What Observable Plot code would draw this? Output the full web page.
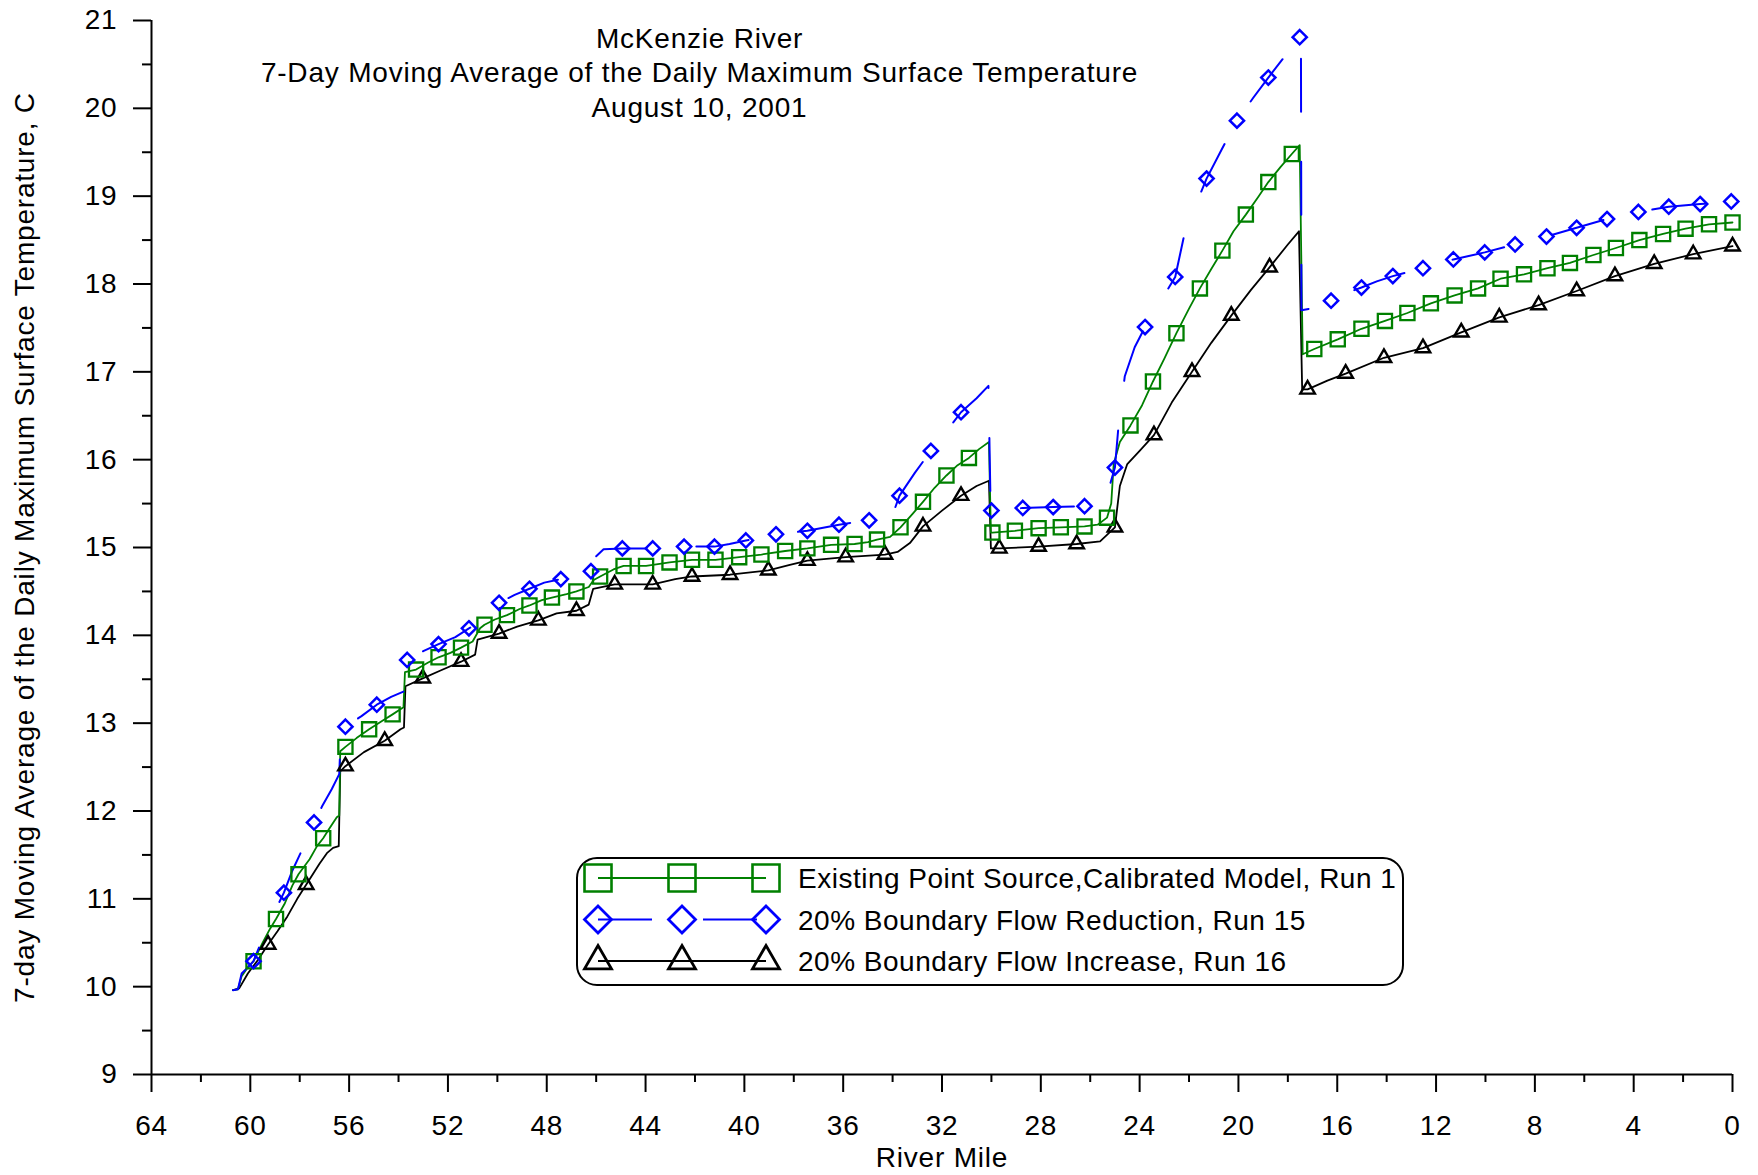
<!DOCTYPE html>
<html>
<head>
<meta charset="utf-8">
<script src="https://cdn.jsdelivr.net/npm/d3@7"></script>
<script src="https://cdn.jsdelivr.net/npm/@observablehq/plot@0.6"></script>
<style>
  body { margin: 0; background: #fff; }
  #chart { width: 1758px; height: 1175px; }
  #chart svg text { font-family: "Liberation Sans", Arial, sans-serif; letter-spacing: 0.8px; fill: #000; }
  #chart svg .legend text { letter-spacing: 0.5px; text-anchor: start; }
</style>
</head>
<body>
<div id="chart"></div>
<script>
// ---------- tick values ----------
const xTicks = [64, 60, 56, 52, 48, 44, 40, 36, 32, 28, 24, 20, 16, 12, 8, 4, 0];
const xMinorTicks = [62, 58, 54, 50, 46, 42, 38, 34, 30, 26, 22, 18, 14, 10, 6, 2];
const yTicks = [9, 10, 11, 12, 13, 14, 15, 16, 17, 18, 19, 20, 21];
const yMinorTicks = [9.5, 10.5, 11.5, 12.5, 13.5, 14.5, 15.5, 16.5, 17.5, 18.5, 19.5, 20.5];

// ---------- text ----------
const titleLines = ["McKenzie River", "7-Day Moving Average of the Daily Maximum Surface Temperature", "August 10, 2001"];
const xLabel = "River Mile";
const yLabel = "7-day Moving Average of the Daily Maximum Surface Temperature, C";
const legendLabels = [
  "Existing Point Source,Calibrated Model, Run 1",
  "20% Boundary Flow Reduction, Run 15",
  "20% Boundary Flow Increase, Run 16"
];

// ---------- Run 1: existing point source, calibrated model [river mile, temp C] ----------
const run1Line = [[60.7,9.96],[60.5,9.97],[60.35,10.12],[60.1,10.22],[59.87,10.29],[59.5,10.5],[59.2,10.66],[58.96,10.77],[58.6,10.95],[58.3,11.15],[58.05,11.28],[57.6,11.45],[57.3,11.6],[57.05,11.69],[56.8,11.8],[56.5,11.93],[56.4,11.95],[56.36,12.68],[56.15,12.73],[55.7,12.83],[55.19,12.93],[54.7,13.02],[54.24,13.10],[53.8,13.18],[53.74,13.58],[53.29,13.61],[52.8,13.69],[52.38,13.75],[51.9,13.8],[51.47,13.86],[51.0,13.93],[50.7,14.08],[50.52,14.12],[50.1,14.18],[49.61,14.23],[49.1,14.3],[48.70,14.34],[48.2,14.4],[47.79,14.43],[47.2,14.47],[46.80,14.50],[46.3,14.55],[46.1,14.63],[45.84,14.67],[45.3,14.75],[44.89,14.79],[43.98,14.79],[43.5,14.81],[43.03,14.83],[42.12,14.86],[41.17,14.86],[40.21,14.89],[39.31,14.92],[38.35,14.96],[37.45,14.99],[36.49,15.03],[35.54,15.04],[35.0,15.06],[34.63,15.09],[34.1,15.12],[33.68,15.23],[33.2,15.38],[32.77,15.52],[32.3,15.68],[31.82,15.82],[31.4,15.93],[30.91,16.02],[30.5,16.12],[30.1,16.20],[30.02,15.17],[29.96,15.17],[29.05,15.19],[28.09,15.22],[27.19,15.23],[26.23,15.24],[25.7,15.26],[25.32,15.34],[25.15,15.5],[25.05,15.95],[24.8,16.2],[24.37,16.39],[23.9,16.62],[23.46,16.89],[23.0,17.15],[22.51,17.44],[22.0,17.72],[21.56,17.95],[21.1,18.17],[20.65,18.38],[20.2,18.6],[19.70,18.79],[19.2,18.99],[18.79,19.16],[18.3,19.33],[17.84,19.48],[17.52,19.58],[17.40,17.20],[16.93,17.26],[15.98,17.37],[15.02,17.49],[14.07,17.58],[13.16,17.67],[12.21,17.78],[11.25,17.87],[10.30,17.95],[9.39,18.06],[8.44,18.11],[7.49,18.18],[6.58,18.24],[5.63,18.33],[4.72,18.41],[3.77,18.50],[2.81,18.57],[1.90,18.63],[0.95,18.68],[0.0,18.70]];
const run1Markers = [[59.87,10.29],[58.96,10.77],[58.05,11.28],[57.05,11.69],[56.15,12.73],[55.19,12.93],[54.24,13.10],[53.29,13.61],[52.38,13.75],[51.47,13.86],[50.52,14.12],[49.61,14.23],[48.70,14.34],[47.79,14.43],[46.80,14.50],[45.84,14.67],[44.89,14.79],[43.98,14.79],[43.03,14.83],[42.12,14.86],[41.17,14.86],[40.21,14.89],[39.31,14.92],[38.35,14.96],[37.45,14.99],[36.49,15.03],[35.54,15.04],[34.63,15.09],[33.68,15.23],[32.77,15.52],[31.82,15.82],[30.91,16.02],[29.96,15.17],[29.05,15.19],[28.09,15.22],[27.19,15.23],[26.23,15.24],[25.32,15.34],[24.37,16.39],[23.46,16.89],[22.51,17.44],[21.56,17.95],[20.65,18.38],[19.70,18.79],[18.79,19.16],[17.84,19.48],[16.93,17.26],[15.98,17.37],[15.02,17.49],[14.07,17.58],[13.16,17.67],[12.21,17.78],[11.25,17.87],[10.30,17.95],[9.39,18.06],[8.44,18.11],[7.49,18.18],[6.58,18.24],[5.63,18.33],[4.72,18.41],[3.77,18.50],[2.81,18.57],[1.90,18.63],[0.95,18.68],[0.0,18.70]];

// ---------- Run 15: 20% boundary flow reduction ----------
const run15Line = [[60.7,9.96],[60.5,9.97],[60.35,10.15],[60.1,10.22],[59.87,10.29],[59.5,10.55],[59.2,10.75],[58.9,10.92],[58.64,11.07],[58.3,11.32],[58.0,11.5],[57.7,11.68],[57.42,11.87],[57.1,12.05],[56.7,12.25],[56.4,12.42],[56.33,12.92],[56.15,12.96],[55.5,13.08],[54.88,13.21],[54.3,13.3],[53.8,13.36],[53.7,13.68],[53.65,13.72],[53.0,13.82],[52.38,13.90],[51.7,13.98],[51.15,14.08],[50.5,14.18],[50.2,14.33],[49.93,14.37],[49.3,14.46],[48.70,14.53],[48.1,14.6],[47.43,14.64],[46.8,14.68],[46.21,14.73],[46.0,14.9],[45.7,14.98],[44.94,14.99],[43.71,14.99],[42.44,15.01],[41.21,15.01],[40.6,15.04],[39.94,15.08],[38.72,15.15],[37.45,15.19],[36.17,15.26],[34.95,15.31],[34.2,15.36],[33.9,15.45],[33.72,15.59],[33.1,15.85],[32.45,16.10],[31.8,16.33],[31.23,16.54],[30.6,16.7],[30.12,16.84],[30.03,15.42],[30.0,15.42],[28.73,15.45],[27.5,15.46],[26.23,15.47],[25.6,15.5],[25.3,15.62],[25.0,15.91],[24.85,16.4],[24.6,16.95],[24.2,17.28],[23.78,17.51],[23.2,17.78],[22.56,18.08],[22.2,18.55],[21.8,18.85],[21.29,19.20],[20.7,19.52],[20.06,19.86],[19.4,20.12],[18.79,20.35],[18.1,20.6],[17.52,20.81],[17.47,20.80],[17.45,17.70],[17.1,17.72],[16.8,17.78],[16.25,17.81],[15.6,17.9],[15.02,17.96],[14.4,18.03],[13.75,18.09],[12.53,18.18],[11.30,18.28],[10.03,18.36],[8.80,18.45],[7.53,18.54],[6.31,18.64],[5.08,18.74],[3.81,18.82],[2.58,18.88],[1.31,18.91],[0.05,18.94]];
const run15Markers = [[59.87,10.29],[58.64,11.07],[57.42,11.87],[56.15,12.96],[54.88,13.21],[53.65,13.72],[52.38,13.90],[51.15,14.08],[49.93,14.37],[48.70,14.53],[47.43,14.64],[46.21,14.73],[44.94,14.99],[43.71,14.99],[42.44,15.01],[41.21,15.01],[39.94,15.08],[38.72,15.15],[37.45,15.19],[36.17,15.26],[34.95,15.31],[33.72,15.59],[32.45,16.10],[31.23,16.54],[30.0,15.42],[28.73,15.45],[27.5,15.46],[26.23,15.47],[25.0,15.91],[23.78,17.51],[22.56,18.08],[21.29,19.20],[20.06,19.86],[18.79,20.35],[17.52,20.81],[16.25,17.81],[15.02,17.96],[13.75,18.09],[12.53,18.18],[11.30,18.28],[10.03,18.36],[8.80,18.45],[7.53,18.54],[6.31,18.64],[5.08,18.74],[3.81,18.82],[2.58,18.88],[1.31,18.91],[0.05,18.94]];

// ---------- Run 16: 20% boundary flow increase ----------
const run16Line = [[60.7,9.96],[60.45,9.98],[60.1,10.15],[59.7,10.3],[59.28,10.48],[58.9,10.63],[58.5,10.8],[58.1,11.0],[57.74,11.16],[57.2,11.4],[56.9,11.52],[56.65,11.58],[56.42,11.6],[56.36,12.45],[56.15,12.51],[55.4,12.67],[54.56,12.80],[53.92,12.93],[53.78,12.95],[53.72,13.42],[53.02,13.51],[52.3,13.6],[51.47,13.70],[50.9,13.78],[50.8,13.95],[49.93,14.02],[49.2,14.1],[48.34,14.17],[47.6,14.25],[46.80,14.28],[46.3,14.35],[46.12,14.53],[45.25,14.58],[43.71,14.58],[42.8,14.64],[42.12,14.67],[40.58,14.69],[39.03,14.74],[38.2,14.8],[37.45,14.85],[35.90,14.89],[34.31,14.92],[33.8,14.95],[33.3,15.05],[32.77,15.24],[32.0,15.42],[31.23,15.59],[30.6,15.7],[30.1,15.76],[30.02,14.99],[29.68,14.99],[28.09,15.01],[26.55,15.04],[25.6,15.07],[25.3,15.15],[25.0,15.23],[24.8,15.7],[24.5,15.95],[24.0,16.1],[23.42,16.28],[22.7,16.65],[21.88,17.0],[21.1,17.33],[20.29,17.64],[19.5,17.93],[18.74,18.19],[18.0,18.45],[17.55,18.60],[17.42,16.80],[17.2,16.80],[16.4,16.9],[15.66,16.98],[14.11,17.16],[12.53,17.27],[10.98,17.45],[9.44,17.62],[7.85,17.76],[6.31,17.92],[4.76,18.09],[3.17,18.23],[1.59,18.34],[0.0,18.43]];
const run16Markers = [[59.28,10.48],[57.74,11.16],[56.15,12.51],[54.56,12.80],[53.02,13.51],[51.47,13.70],[49.93,14.02],[48.34,14.17],[46.80,14.28],[45.25,14.58],[43.71,14.58],[42.12,14.67],[40.58,14.69],[39.03,14.74],[37.45,14.85],[35.90,14.89],[34.31,14.92],[32.77,15.24],[31.23,15.59],[29.68,14.99],[28.09,15.01],[26.55,15.04],[25.0,15.23],[23.42,16.28],[21.88,17.0],[20.29,17.64],[18.74,18.19],[17.2,16.80],[15.66,16.98],[14.11,17.16],[12.53,17.27],[10.98,17.45],[9.44,17.62],[7.85,17.76],[6.31,17.92],[4.76,18.09],[3.17,18.23],[1.59,18.34],[0.0,18.43]];

// ---------- styles / layout ----------
const GREEN = "#008000", BLUE = "#0000ff", BLACK = "#000000";
const W = 1758, H = 1175, ML = 151, MR = 26, MT = 20, MB = 101;
const FS = 28;
const mx = d => d[0], my = d => d[1];

const chart = Plot.plot({
  width: W, height: H,
  marginLeft: ML, marginRight: MR, marginTop: MT, marginBottom: MB,
  style: { fontFamily: "Liberation Sans, Arial, sans-serif", fontSize: FS + "px", background: "#fff", color: "#000" },
  x: { domain: [64, 0] },
  y: { domain: [9, 21] },
  marks: [
    Plot.axisY({ ticks: yTicks, tickSize: 18, tickPadding: 16, strokeWidth: 2, fontSize: FS, label: null, tickFormat: d => String(d) }),
    Plot.axisY({ ticks: yMinorTicks, tickSize: 9, strokeWidth: 2, text: null, label: null }),
    Plot.axisX({ ticks: xTicks, tickSize: 18, tickPadding: 23, strokeWidth: 2, fontSize: FS, label: null, tickFormat: d => String(d) }),
    Plot.axisX({ ticks: xMinorTicks, tickSize: 8, strokeWidth: 2, text: null, label: null }),
    Plot.ruleX([64], { strokeWidth: 2 }),
    Plot.ruleY([9], { strokeWidth: 2 }),
    // lines
    Plot.line(run16Line, { x: mx, y: my, stroke: BLACK, strokeWidth: 1.8, curve: "linear" }),
    Plot.line(run1Line, { x: mx, y: my, stroke: GREEN, strokeWidth: 1.8, curve: "linear" }),
    Plot.line(run15Line, { x: mx, y: my, stroke: BLUE, strokeWidth: 2, strokeDasharray: "53,50", curve: "linear" }),
    // markers
    Plot.dot(run16Markers, { x: mx, y: my, symbol: "triangle", r: 5.4, stroke: BLACK, strokeWidth: 2.4, fill: "none" }),
    Plot.dot(run1Markers, { x: mx, y: my, symbol: "square", r: 8, stroke: GREEN, strokeWidth: 2.3, fill: "none" }),
    Plot.dot(run15Markers, { x: mx, y: my, symbol: "diamond2", r: 6.4, stroke: BLUE, strokeWidth: 2.5, fill: "none" }),
    // texts
    Plot.text([titleLines.join("\n")], { frameAnchor: "top-left", dx: 548, dy: 3.5, textAnchor: "middle", lineAnchor: "top", lineHeight: 1.22, fontSize: FS }),
    Plot.text([xLabel], { frameAnchor: "bottom", dy: 84, textAnchor: "middle", lineAnchor: "middle", fontSize: FS }),
    Plot.text([yLabel], { frameAnchor: "left", dx: -126, rotate: -90, textAnchor: "middle", lineAnchor: "middle", fontSize: FS })
  ]
});

// ---------- legend (inside the plot area) ----------
const svg = d3.select(chart);
const lg = svg.append("g").attr("class", "legend").attr("text-anchor", "start");
lg.append("rect")
  .attr("x", 577).attr("y", 858).attr("width", 826).attr("height", 127)
  .attr("rx", 20).attr("ry", 20)
  .attr("fill", "#fff").attr("stroke", "#000").attr("stroke-width", 2);
const legendStyles = [
  { color: GREEN, symbol: d3.symbolSquare, size: 729, dash: null, sw: 2.6 },
  { color: BLUE, symbol: d3.symbolDiamond2, size: 465, dash: "54,51", sw: 2.8 },
  { color: BLACK, symbol: d3.symbolTriangle, size: 315, dash: null, sw: 2.8 }
];
const legendX = [598, 682, 766];
legendLabels.forEach((label, i) => {
  const st = legendStyles[i];
  const cy = 878 + i * 41.5;
  const ln = lg.append("line")
    .attr("x1", legendX[0]).attr("x2", legendX[2]).attr("y1", cy).attr("y2", cy)
    .attr("stroke", st.color).attr("stroke-width", 2);
  if (st.dash) ln.attr("stroke-dasharray", st.dash);
  legendX.forEach(cx => {
    lg.append("path")
      .attr("d", d3.symbol(st.symbol, st.size)())
      .attr("transform", `translate(${cx},${cy})`)
      .attr("fill", "none").attr("stroke", st.color).attr("stroke-width", st.sw);
  });
  lg.append("text")
    .attr("x", 798).attr("y", cy).attr("dy", "0.36em")
    .attr("text-anchor", "start")
    .attr("font-size", FS)
    .text(label);
});

document.getElementById("chart").appendChild(chart);
</script>
</body>
</html>
